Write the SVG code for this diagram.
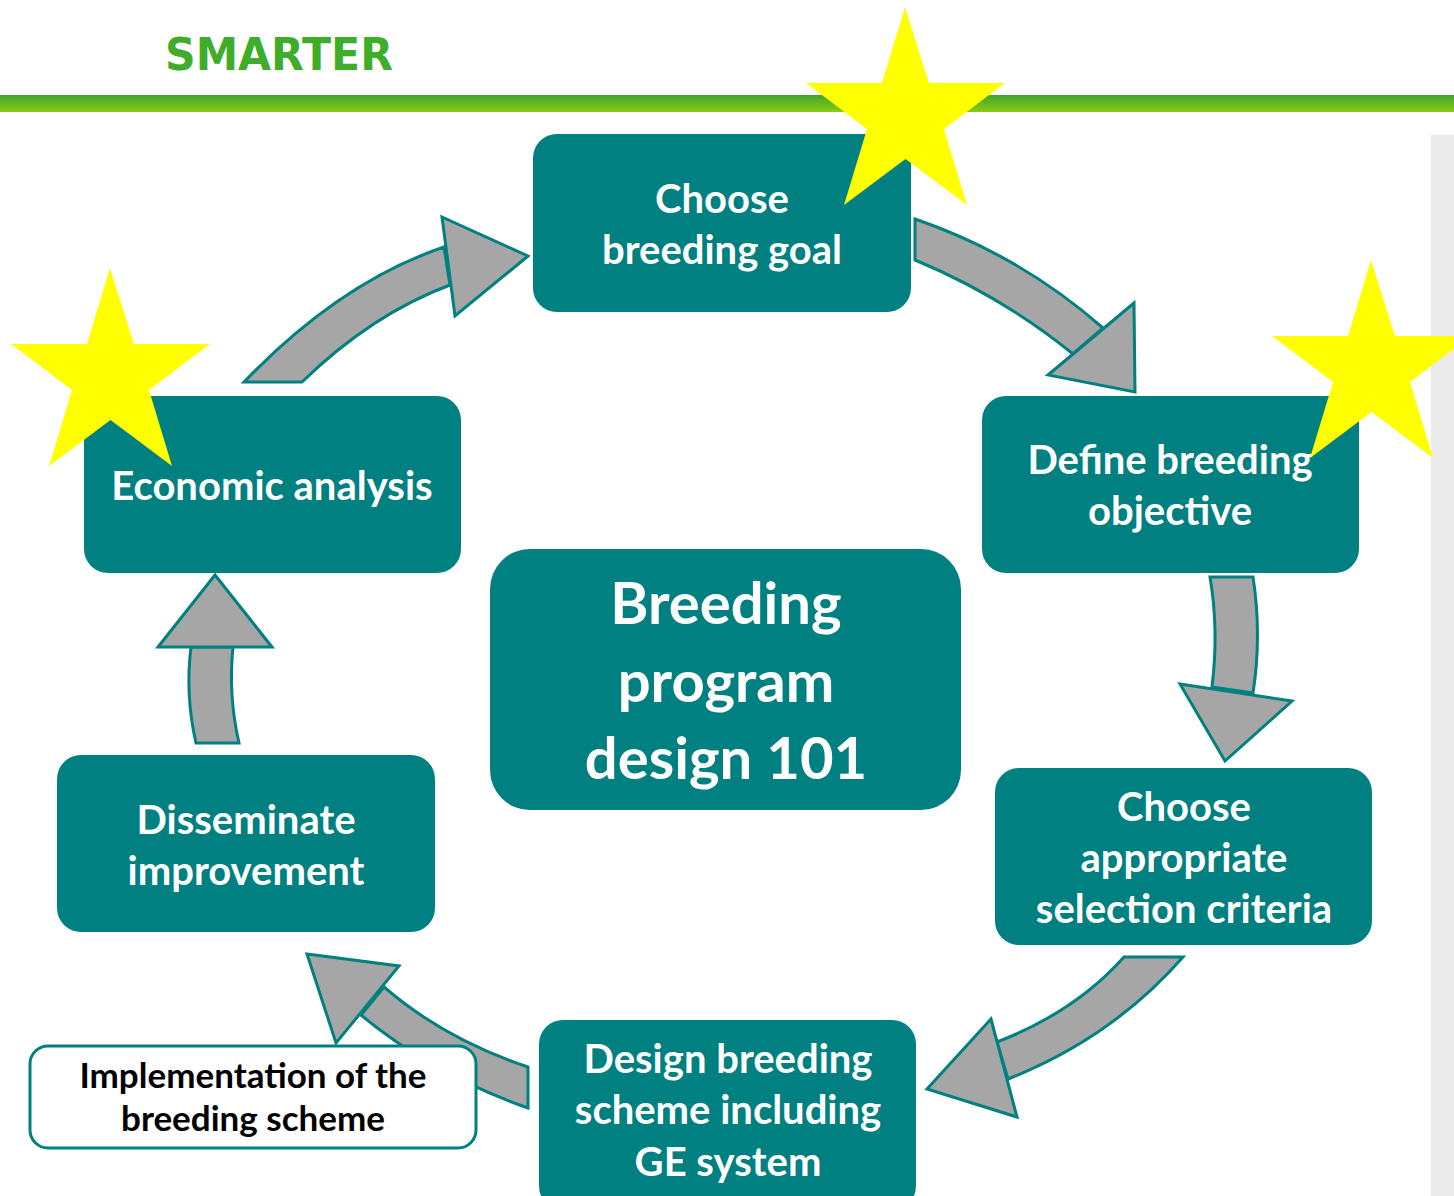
<svg xmlns="http://www.w3.org/2000/svg" xmlns:xlink="http://www.w3.org/1999/xlink" width="1454" height="1196" viewBox="0 0 1454 1196">
  <defs>
    <linearGradient id="barGrad" x1="0" y1="0" x2="0" y2="1">
      <stop offset="0" stop-color="#3fa532"/>
      <stop offset="1" stop-color="#8dca12"/>
    </linearGradient>
    <polygon id="star" points="0,0 24,76 100,76 39,122 62,198 0.5,152 -61,198 -38,122 -99,76 -23,76"/>
    <style>
      .box { fill: #008080; }
      .lbl { font-family: Lato, "Liberation Sans", sans-serif; font-weight: bold; fill: #ffffff; text-anchor: middle; font-size: 40px; }
      .big { font-size: 58px; }
      .note { fill: #000000; font-size: 35px; }
      .arrow { fill: #a6a6a6; stroke: #008080; stroke-width: 3; stroke-linejoin: miter; }
      .star { fill: #ffff00; }
    </style>
  </defs>

  <!-- page background and header -->
  <rect x="0" y="0" width="1454" height="1196" fill="#ffffff"/>
  <rect x="1431" y="135" width="23" height="1061" fill="#ebebeb"/>
  <text x="165" y="70" font-family="'DejaVu Sans', Verdana, sans-serif" font-weight="bold" font-size="44" fill="#40ad2a" textLength="228" lengthAdjust="spacingAndGlyphs">SMARTER</text>
  <rect x="0" y="95" width="1454" height="17" fill="url(#barGrad)"/>

  <!-- curved block arrows between the steps -->
  <g id="connectors">
    <!-- economic analysis -> breeding goal -->
    <path class="arrow" d="M244,382 Q340,282 444,247 L450,285 Q372,314 302,382 Z"/>
    <polygon class="arrow" points="442,217 528,256 455,316"/>
    <!-- breeding goal -> breeding objective -->
    <path class="arrow" d="M915,219 Q1020,255 1103,328 L1073,354 Q1000,295 915,260 Z"/>
    <polygon class="arrow" points="1134,303 1048,375 1135,392"/>
    <!-- breeding objective -> selection criteria -->
    <path class="arrow" d="M1210,577 L1253,577 Q1262,635 1253,693 L1212,687 Q1219,630 1210,577 Z"/>
    <polygon class="arrow" points="1180,684 1292,701 1225,761"/>
    <!-- selection criteria -> breeding scheme -->
    <path class="arrow" d="M1124,957 L1183,957 Q1112,1038 1008,1079 L997,1042 Q1075,1012 1124,957 Z"/>
    <polygon class="arrow" points="991,1019 927,1089 1017,1117"/>
    <!-- breeding scheme -> dissemination -->
    <path class="arrow" d="M528,1067 L528,1108 Q432,1074 361,1015 L384,987 Q444,1039 528,1067 Z"/>
    <polygon class="arrow" points="307,954 399,966 336,1043"/>
    <!-- dissemination -> economic analysis -->
    <path class="arrow" d="M196,743 L239,743 Q228,695 233,647 L191,647 Q185,695 196,743 Z"/>
    <polygon class="arrow" points="158,647 215,575 272,647"/>
  </g>

  <g id="node-goal">
    <rect class="box" x="533" y="134" width="378" height="178" rx="24"/>
    <text class="lbl" x="722" y="213">Choose</text>
    <text class="lbl" x="722" y="264">breeding goal</text>
  </g>

  <g id="node-objective">
    <rect class="box" x="982" y="396" width="377" height="177" rx="24"/>
    <text class="lbl" x="1170" y="474">Define breeding</text>
    <text class="lbl" x="1170" y="525">objective</text>
  </g>

  <g id="node-criteria">
    <rect class="box" x="995" y="768" width="377" height="177" rx="24"/>
    <text class="lbl" x="1184" y="821">Choose</text>
    <text class="lbl" x="1184" y="872">appropriate</text>
    <text class="lbl" x="1184" y="923">selection criteria</text>
  </g>

  <g id="node-scheme">
    <rect class="box" x="539" y="1020" width="377" height="190" rx="24"/>
    <text class="lbl" x="728" y="1073">Design breeding</text>
    <text class="lbl" x="728" y="1124">scheme including</text>
    <text class="lbl" x="728" y="1176">GE system</text>
  </g>

  <g id="node-disseminate">
    <rect class="box" x="57" y="755" width="378" height="177" rx="24"/>
    <text class="lbl" x="246" y="834">Disseminate</text>
    <text class="lbl" x="246" y="885">improvement</text>
  </g>

  <g id="node-economic">
    <rect class="box" x="84" y="396" width="377" height="177" rx="24"/>
    <text class="lbl" x="272" y="500">Economic analysis</text>
  </g>

  <g id="node-center">
    <rect class="box" x="490" y="549" width="471" height="261" rx="40"/>
    <text class="lbl big" x="726" y="624">Breeding</text>
    <text class="lbl big" x="726" y="702">program</text>
    <text class="lbl big" x="726" y="779">design 101</text>
  </g>

  <g id="node-implementation">
    <rect x="30" y="1046" width="446" height="102" rx="18" fill="#ffffff" stroke="#008080" stroke-width="3"/>
    <text class="lbl note" x="253" y="1088">Implementation of the</text>
    <text class="lbl note" x="253" y="1131">breeding scheme</text>
  </g>

  <!-- highlight stars -->
  <g id="stars">
    <use xlink:href="#star" class="star" transform="translate(905,7)"/>
    <use xlink:href="#star" class="star" transform="translate(110,268)"/>
    <use xlink:href="#star" class="star" transform="translate(1371,260)"/>
  </g>
</svg>
